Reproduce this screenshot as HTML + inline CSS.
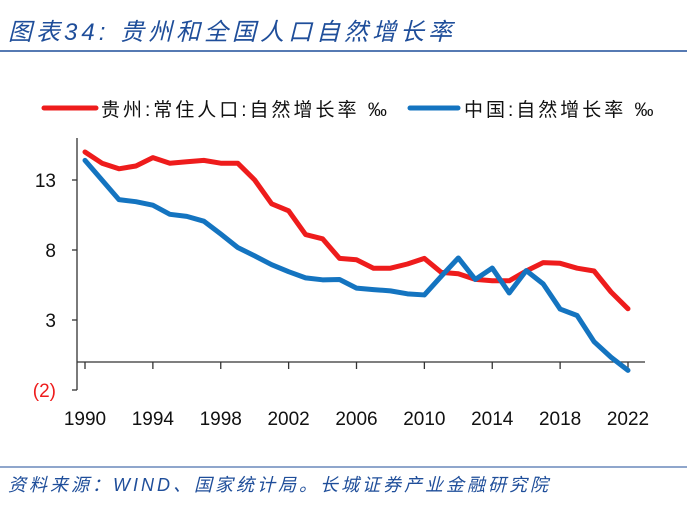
<!DOCTYPE html>
<html><head><meta charset="utf-8"><style>
body{margin:0;background:#fff;width:687px;height:522px;overflow:hidden;font-family:"Liberation Sans","Noto Sans CJK SC",sans-serif}
</style></head><body>
<svg width="687" height="522">
<text x="8" y="40" font-size="24" font-style="italic" fill="#1f4e9a" letter-spacing="4" font-family="Liberation Sans, Noto Sans CJK SC, sans-serif">图表34:  贵州和全国人口自然增长率</text>
<line x1="0" y1="51" x2="687" y2="51" stroke="#1f4e9a" stroke-width="1.5"/>
<g>
<line x1="44" y1="108" x2="96" y2="108" stroke="#ee1c1c" stroke-width="5" stroke-linecap="round"/>
<text x="101" y="116" font-size="19" fill="#111" letter-spacing="3">贵州:常住人口:自然增长率 ‰</text>
<line x1="410" y1="108" x2="458" y2="108" stroke="#1474c0" stroke-width="5" stroke-linecap="round"/>
<text x="464" y="116" font-size="19" fill="#111" letter-spacing="3">中国:自然增长率 ‰</text>
</g>
<g id="plot"></g>
<line x1="0" y1="467" x2="687" y2="467" stroke="#1f4e9a" stroke-width="1"/>
<text x="8" y="491" font-size="18" font-style="italic" fill="#1f4e9a" letter-spacing="3">资料来源：WIND、国家统计局。长城证券产业金融研究院</text>
</svg>
<script>
const years=[1990,1991,1992,1993,1994,1995,1996,1997,1998,1999,2000,2001,2002,2003,2004,2005,2006,2007,2008,2009,2010,2011,2012,2013,2014,2015,2016,2017,2018,2019,2020,2021,2022];
const guizhou=[15.0,14.2,13.8,14.0,14.6,14.2,14.3,14.4,14.2,14.2,13.0,11.3,10.8,9.1,8.8,7.4,7.3,6.7,6.7,7.0,7.4,6.4,6.3,5.9,5.8,5.8,6.5,7.1,7.05,6.7,6.5,5.0,3.8];
const china=[14.4,13.0,11.6,11.45,11.2,10.55,10.4,10.06,9.14,8.18,7.58,6.95,6.45,6.01,5.87,5.89,5.28,5.17,5.08,4.87,4.79,6.13,7.43,5.9,6.71,4.93,6.53,5.58,3.78,3.32,1.45,0.34,-0.6];
const yTicks=[13,8,3,-2];
const yTickLabels=["13","8","3","(2)"];
const xTicks=[1990,1994,1998,2002,2006,2010,2014,2018,2022];
const NS="http://www.w3.org/2000/svg";
const g=document.getElementById('plot');
const X=v=>85+(v-1990)*(628-85)/32;
const Y=v=>362-v*14;
function mk(t,a){const e=document.createElementNS(NS,t);for(const k in a)e.setAttribute(k,a[k]);g.appendChild(e);return e;}
let e=mk('line',{x1:77,y1:138,x2:77,y2:Y(-2),stroke:'#333','stroke-width':1.3});


e=mk('line',{x1:77,y1:Y(0),x2:645,y2:Y(0),stroke:'#333','stroke-width':1.3});


yTicks.forEach((v,i)=>{
 let t=mk('line',{x1:72,y1:Y(v),x2:77,y2:Y(v),stroke:'#333','stroke-width':1.3});
 
 
 let l=mk('text',{x:56,y:Y(v)+7,'font-size':19,'text-anchor':'end',fill:v<0?'#ee1c1c':'#111'});
 l.textContent=yTickLabels[i];
 
 
});
xTicks.forEach(v=>{
 let t=mk('line',{x1:X(v),y1:Y(0),x2:X(v),y2:Y(0)+7,stroke:'#333','stroke-width':1.3});
 
 
 let l=mk('text',{x:X(v),y:425,'font-size':19,'text-anchor':'middle',fill:'#111'});
 l.textContent=v;
 
 
});
function line(d,c,n){
 const p=mk('polyline',{points:d.map((v,i)=>X(years[i])+','+Y(v)).join(' '),fill:'none',stroke:c,'stroke-width':5,'stroke-linejoin':'round','stroke-linecap':'round'});
 
 
}
line(guizhou,'#ee1c1c','series-guizhou');
line(china,'#1474c0','series-china');
</script>
</body></html>
